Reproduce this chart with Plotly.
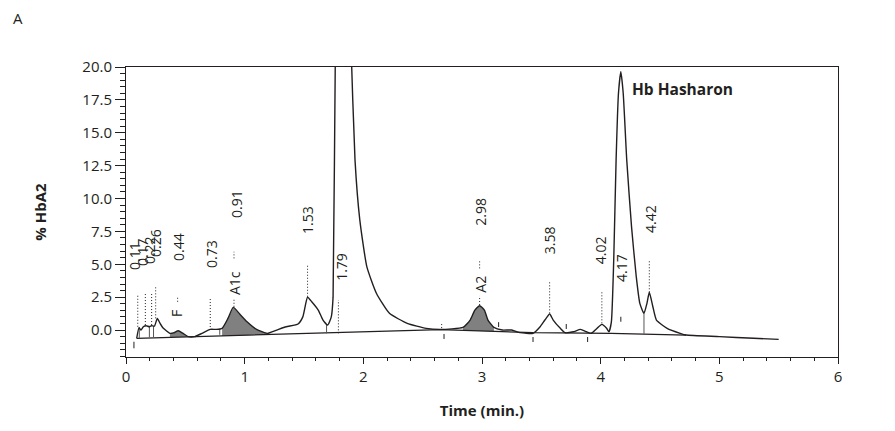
import numpy as np
import plotly.graph_objects as go

# chromatogram trace (time in min., % HbA2)
trace_t = [0.09, 0.11, 0.126, 0.146, 0.17, 0.197, 0.216, 0.24, 0.264, 0.287, 0.315,
           0.37, 0.40, 0.44, 0.48, 0.525, 0.58, 0.64, 0.71, 0.76, 0.81, 0.86, 0.904,
           0.96, 1.02, 1.10, 1.19, 1.27, 1.35, 1.45, 1.49, 1.53, 1.565, 1.62, 1.66,
           1.70, 1.73, 1.745, 1.765, 1.83, 1.895, 1.93, 1.97, 2.03, 2.11, 2.22, 2.37,
           2.53, 2.65, 2.84, 2.90, 2.94, 2.98, 3.02, 3.05, 3.10, 3.17, 3.25, 3.32,
           3.43, 3.49, 3.53, 3.57, 3.60, 3.66, 3.70, 3.77, 3.83, 3.88, 3.92, 3.97,
           4.01, 4.05, 4.07, 4.09, 4.11, 4.13, 4.15, 4.17, 4.19, 4.22, 4.26, 4.30,
           4.33, 4.365, 4.39, 4.41, 4.44, 4.47, 4.56, 4.67, 4.72, 5.0, 5.29, 5.50]
trace_v = [-0.63, 0.18, 0.0, 0.25, 0.33, 0.25, 0.33, 0.3, 0.89, 0.51, 0.13,
           -0.25, -0.22, -0.05, -0.25, -0.5, -0.5, -0.25, 0.05, 0.05, 0.13, 0.9, 1.72,
           1.2, 0.63, 0.05, -0.25, 0.0, 0.25, 0.46, 1.0, 2.49, 2.15, 1.52, 0.76,
           0.38, 1.0, 2.5, 22.0, 45.0, 22.0, 12.9, 8.4, 4.8, 2.8, 1.27, 0.51,
           0.13, 0.05, 0.2, 0.76, 1.52, 1.85, 1.52, 0.76, 0.2, 0.0, 0.0, -0.2,
           -0.25, 0.25, 0.76, 1.22, 0.76, 0.13, -0.2, -0.13, 0.05, -0.13, -0.25, 0.13,
           0.43, 0.13, -0.13, 0.6, 5.3, 12.9, 18.0, 19.65, 18.0, 12.9, 7.86, 4.05,
           2.03, 1.27, 2.03, 2.87, 1.77, 0.76, 0.13, -0.25, -0.38, -0.5, -0.63, -0.71]

# integration baseline
base_t = [0.09, 2.65, 3.43, 4.09, 4.72]
base_v = [-0.63, 0.03, -0.2, -0.25, -0.38]

# shaded peaks (F, A1c, A2): time windows
shade_start = [0.37, 0.79, 2.84]
shade_end = [0.525, 1.19, 3.10]

# dotted retention-time markers
dot_t = [0.099, 0.163, 0.216, 0.25, 0.435, 0.71, 0.91, 0.91, 1.53, 1.79, 2.66, 2.98, 2.98, 3.57, 4.01, 4.41]
dot_lo = [0.25, 0.38, 0.38, 0.89, 2.15, 0.0, 5.45, 1.77, 2.53, -0.25, 0.15, 4.69, 1.90, 1.27, 0.51, 2.87]
dot_hi = [2.66, 2.79, 2.84, 3.29, 2.59, 2.49, 5.95, 2.33, 4.94, 2.28, 0.60, 5.32, 2.59, 3.67, 2.91, 5.32]

# short solid peak start/end ticks
tick_t = [0.067, 2.68, 3.14, 3.43, 3.71, 3.89, 4.17]
tick_lo = [-1.39, -0.68, 0.23, -0.91, 0.08, -0.91, 0.63]
tick_hi = [-0.89, -0.30, 0.60, -0.53, 0.46, -0.53, 1.01]

# peak separation drop lines
drop_t = [0.112, 0.197, 0.232, 0.79, 1.69, 4.365]
drop_lo = [-0.6, -0.55, -0.53, -0.36, -0.25, -0.28]
drop_hi = [0.2, 0.25, 0.3, 0.08, 0.38, 1.27]

# rotated labels
label_text = ["0.11", "0.17", "0.22", "0.26", "0.44", "F", "0.73", "0.91", "A1c", "1.53",
              "1.79", "2.98", "A2", "3.58", "4.02", "4.17", "4.42"]
label_t = [0.076, 0.135, 0.194, 0.253, 0.438, 0.43, 0.716, 0.927, 0.91, 1.534,
           1.81, 2.98, 2.98, 3.565, 3.995, 4.17, 4.415]
label_v = [5.63, 5.93, 6.08, 6.62, 6.31, 1.22, 5.78, 9.58, 3.57, 8.37,
           4.79, 8.97, 3.5, 6.84, 6.08, 4.71, 8.44]


def segments(xs, lo, hi):
    sx, sy = [], []
    for x, a, b in zip(xs, lo, hi):
        sx += [x, x, None]
        sy += [a, b, None]
    return sx, sy


fig = go.Figure()

tt = np.array(trace_t)
vv = np.array(trace_v)
for a, b in zip(shade_start, shade_end):
    m = (tt >= a) & (tt <= b)
    xs = list(tt[m])
    ys = list(vv[m])
    bx = [xs[-1], xs[0]]
    by = list(np.interp(bx, base_t, base_v))
    fig.add_trace(go.Scatter(x=xs + bx, y=ys + by, fill="toself", fillcolor="#808080",
                             mode="lines", line=dict(width=0), showlegend=False, hoverinfo="skip"))

fig.add_trace(go.Scatter(x=base_t, y=base_v, mode="lines",
                         line=dict(color="#231f20", width=1.3), showlegend=False))

sx, sy = segments(drop_t, drop_lo, drop_hi)
fig.add_trace(go.Scatter(x=sx, y=sy, mode="lines", line=dict(color="#555555", width=1), showlegend=False))

sx, sy = segments(tick_t, tick_lo, tick_hi)
fig.add_trace(go.Scatter(x=sx, y=sy, mode="lines", line=dict(color="#231f20", width=1), showlegend=False))

sx, sy = segments(dot_t, dot_lo, dot_hi)
fig.add_trace(go.Scatter(x=sx, y=sy, mode="lines", line=dict(color="#231f20", width=1, dash="1px,2px"),
                         showlegend=False))

fig.add_trace(go.Scatter(x=trace_t, y=trace_v, mode="lines",
                         line=dict(color="#231f20", width=1.4, shape="spline", smoothing=0.5),
                         showlegend=False))

for txt, x, y in zip(label_text, label_t, label_v):
    fig.add_annotation(x=x, y=y, text=txt, textangle=-90, showarrow=False,
                       xanchor="center", yanchor="middle",
                       font=dict(size=14, color="#231f20"))

fig.add_annotation(x=4.25, y=18.3, text="<b>Hb Hasharon</b>", showarrow=False,
                   xanchor="left", yanchor="middle", font=dict(size=15.5, color="#231f20"))
# page body has an 8px margin, so the panel letter sits at 10,10 inside the figure
fig.add_annotation(xref="paper", yref="paper", x=-0.152, y=1.169, text="A", showarrow=False,
                   xanchor="center", yanchor="middle", font=dict(size=15, color="#231f20"))

fig.update_xaxes(range=[0, 6], dtick=1, tickformat="d", showgrid=False, zeroline=False,
                 showline=True, linecolor="#231f20", linewidth=1, mirror=True,
                 ticks="outside", ticklen=6, tickcolor="#231f20",
                 minor=dict(dtick=0.2, ticks="outside", ticklen=3, tickcolor="#231f20"),
                 title=dict(text="<b>Time (min.)</b>", standoff=20, font=dict(size=15)))
fig.update_yaxes(range=[-2.05, 20], tick0=0, dtick=2.5, tickformat=".1f", showgrid=False,
                 zeroline=False, showline=True, linecolor="#231f20", linewidth=1, mirror=True,
                 ticks="outside", ticklen=10, tickcolor="#231f20",
                 minor=dict(dtick=0.5, ticks="outside", ticklen=5, tickcolor="#231f20"),
                 title=dict(text="<b>% HbA2</b>", standoff=32, font=dict(size=15)))

fig.update_layout(width=880, height=423, margin=dict(l=118, r=50, t=59, b=74),
                  plot_bgcolor="white", paper_bgcolor="white",
                  font=dict(family="Open Sans", size=15, color="#231f20"))

fig.write_html("out.html")
